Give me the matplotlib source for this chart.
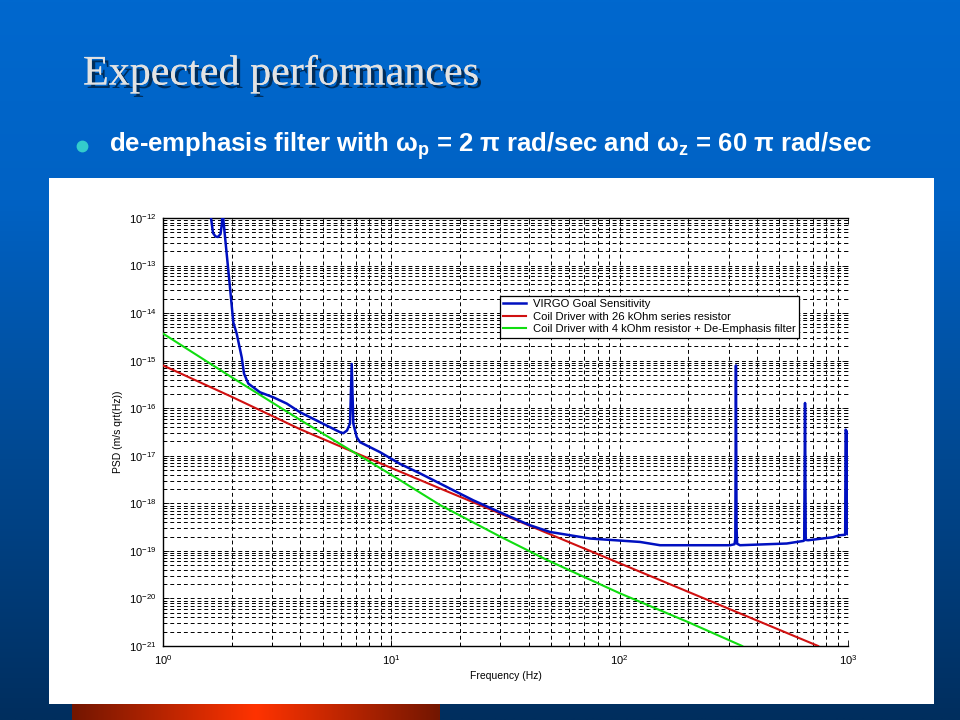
import numpy as np
import matplotlib
matplotlib.use('Agg')
import matplotlib.pyplot as plt
from matplotlib.patches import Rectangle
import matplotlib.patheffects as pe
from matplotlib.ticker import LogLocator, NullFormatter, FuncFormatter

plt.rcParams['font.family'] = ['Liberation Sans', 'DejaVu Sans']
plt.rcParams['mathtext.fontset'] = 'custom'
plt.rcParams['mathtext.rm'] = 'Liberation Sans'
plt.rcParams['mathtext.bf'] = 'Liberation Sans:bold'
plt.rcParams['mathtext.it'] = 'Liberation Sans:italic'

# ---------------- data ----------------
title_text = "Expected performances"
bullet_text = r"de-emphasis filter with $\mathbf{\omega_p}$ = 2 π rad/sec and $\mathbf{\omega_z}$ = 60 π rad/sec"
xlabel_text = "Frequency (Hz)"
ylabel_text = "PSD (m/s qrt(Hz))"
legend_labels = ["VIRGO Goal Sensitivity",
                 "Coil Driver with 26 kOhm series resistor",
                 "Coil Driver with 4 kOhm resistor + De-Emphasis filter"]

blue_freq = [1.60, 1.623, 1.656, 1.698, 1.741, 1.786, 1.813, 1.822, 1.837, 1.901,
             1.965, 2.032, 2.103, 2.212, 2.264, 2.364, 2.660, 3.042, 3.482, 3.981,
             4.872, 5.960, 6.163, 6.397, 6.592, 6.707, 6.815, 7.053, 7.292, 8.923,
             10.91, 13.35, 18.07, 22.86, 32.01, 40.49, 49.54, 74.17, 122.8, 150.2,
             304.2, 318.4, 321.0, 323.0, 325.0, 327.0, 336.6, 539.0, 637.3, 643.0,
             648.3, 653.0, 668.4, 859.8, 918.9, 972.0, 976.0, 992.0, 996.0, 1000.0]
blue_log10_psd = [-11.5, -12.00, -12.315, -12.388, -12.399, -12.336, -12.105, -11.5, -12.027, -12.755,
                  -13.462, -14.196, -14.433, -14.931, -15.273, -15.482, -15.665, -15.770, -15.902, -16.084,
                  -16.294, -16.504, -16.525, -16.468, -16.321, -15.069, -16.321, -16.609, -16.714, -16.924,
                  -17.17, -17.37, -17.69, -17.937, -18.251, -18.461, -18.602, -18.740, -18.812, -18.881,
                  -18.881, -18.860, -18.75, -15.10, -18.50, -18.85, -18.881, -18.845, -18.791, -18.78,
                  -15.89, -18.77, -18.776, -18.713, -18.671, -18.66, -16.45, -16.50, -18.65, -18.65]

red_freq = [1.0, 2.0, 3.98, 6.59, 16.4, 100.0, 740.0]
red_log10_psd = [-15.10, -15.76, -16.44, -16.89, -17.69, -19.26, -21.0]

green_freq = [1.0, 2.0, 4.0, 6.93, 10.0, 16.4, 30.0, 48.0, 100.0, 200.0, 344.0]
green_log10_psd = [-14.43, -15.35, -16.25, -16.94, -17.40, -18.04, -18.70, -19.19, -19.89, -20.50, -21.0]

x_limits = (1.0, 1000.0)
y_limits = (1e-21, 1e-12)

# ---------------- figure and slide background ----------------
fig = plt.figure(figsize=(9.6, 7.2), dpi=100)
bg = fig.add_axes([0, 0, 1, 1], zorder=-10)
bg.axis('off')

rows = np.linspace(0, 720, 200)
stops_y = [0, 200, 720]
stops_c = np.array([[0, 104, 206], [0, 98, 196], [0, 46, 94]]) / 255.0
grad = np.stack([np.interp(rows, stops_y, stops_c[:, k]) for k in range(3)], axis=-1)
grad = np.repeat(grad[:, None, :], 2, axis=1)
bg.imshow(grad, extent=(0, 960, 720, 0), aspect='auto', interpolation='bilinear')

# orange bar at bottom
cols = np.linspace(0, 1, 200)
oc = np.array([[115, 22, 0], [255, 51, 0], [115, 22, 0]]) / 255.0
og = np.stack([np.interp(cols, [0, 0.5, 1], oc[:, k]) for k in range(3)], axis=-1)
og = np.repeat(og[None, :, :], 2, axis=0)
bg.imshow(og, extent=(72, 440, 720, 704), aspect='auto', interpolation='bilinear')

# white panel
bg.add_patch(Rectangle((49, 178), 885, 526, facecolor='white', edgecolor='none'))

bg.set_xlim(0, 960)
bg.set_ylim(720, 0)

# title with shadow
bg.text(83, 74, title_text, fontsize=30.3, family='Liberation Serif', color='#E2E2E2',
        va='center', ha='left',
        path_effects=[pe.withSimplePatchShadow(offset=(2.5, -2.5), shadow_rgbFace='black', alpha=0.55),
                      pe.Normal()])

# bullet
bg.plot([82], [146], 'o', color='#33CCCC', markersize=7.5)
bg.text(109, 146, bullet_text, fontsize=18.5, fontweight='bold', color='white',
        va='center', ha='left')

# ---------------- the chart ----------------
ax = fig.add_axes([163 / 960, 74 / 720, 685 / 960, 428 / 720])
ax.set_xscale('log')
ax.set_yscale('log')
ax.set_xlim(*x_limits)
ax.set_ylim(*y_limits)

l1, = ax.plot(blue_freq, 10.0 ** np.array(blue_log10_psd), color='#0010C0', lw=1.8, zorder=5)
l2, = ax.plot(red_freq, 10.0 ** np.array(red_log10_psd), color='#D01010', lw=1.5, zorder=4)
l3, = ax.plot(green_freq, 10.0 ** np.array(green_log10_psd), color='#10DD10', lw=1.5, zorder=4)

ax.xaxis.set_major_locator(LogLocator(base=10, numticks=10))
ax.xaxis.set_minor_locator(LogLocator(base=10, subs=np.arange(2, 10), numticks=20))
ax.yaxis.set_major_locator(LogLocator(base=10, numticks=20))
ax.yaxis.set_minor_locator(LogLocator(base=10, subs=np.arange(2, 10), numticks=40))
fmt = FuncFormatter(lambda v, p: r'$10^{%d}$' % int(round(np.log10(v))))
ax.xaxis.set_major_formatter(fmt)
ax.yaxis.set_major_formatter(fmt)
ax.xaxis.set_minor_formatter(NullFormatter())
ax.yaxis.set_minor_formatter(NullFormatter())

ax.grid(True, which='both', color='black', linestyle=(0, (4, 3)), linewidth=0.7)
ax.tick_params(which='both', direction='in', top=True, right=True, labelsize=8, colors='black')
ax.tick_params(which='major', length=4, width=0.6, pad=5)
ax.tick_params(which='minor', length=2, width=0.5)
for s in ['left', 'bottom', 'top']:
    ax.spines[s].set_linewidth(1.0)
ax.spines['right'].set_visible(False)

ax.set_xlabel(xlabel_text, fontsize=7.5, labelpad=3)
ax.set_ylabel(ylabel_text, fontsize=7.5, labelpad=4)

leg = ax.legend([l1, l2, l3], legend_labels, loc='upper left', bbox_to_anchor=(0.492, 0.818),
                borderaxespad=0, fontsize=8.1, frameon=True, fancybox=False, framealpha=1,
                edgecolor='black', handlelength=2.0, handletextpad=0.6, labelspacing=0.22,
                borderpad=0.3)
leg.get_frame().set_linewidth(0.9)
leg.set_zorder(10)

fig.savefig('out.png', dpi=100)
